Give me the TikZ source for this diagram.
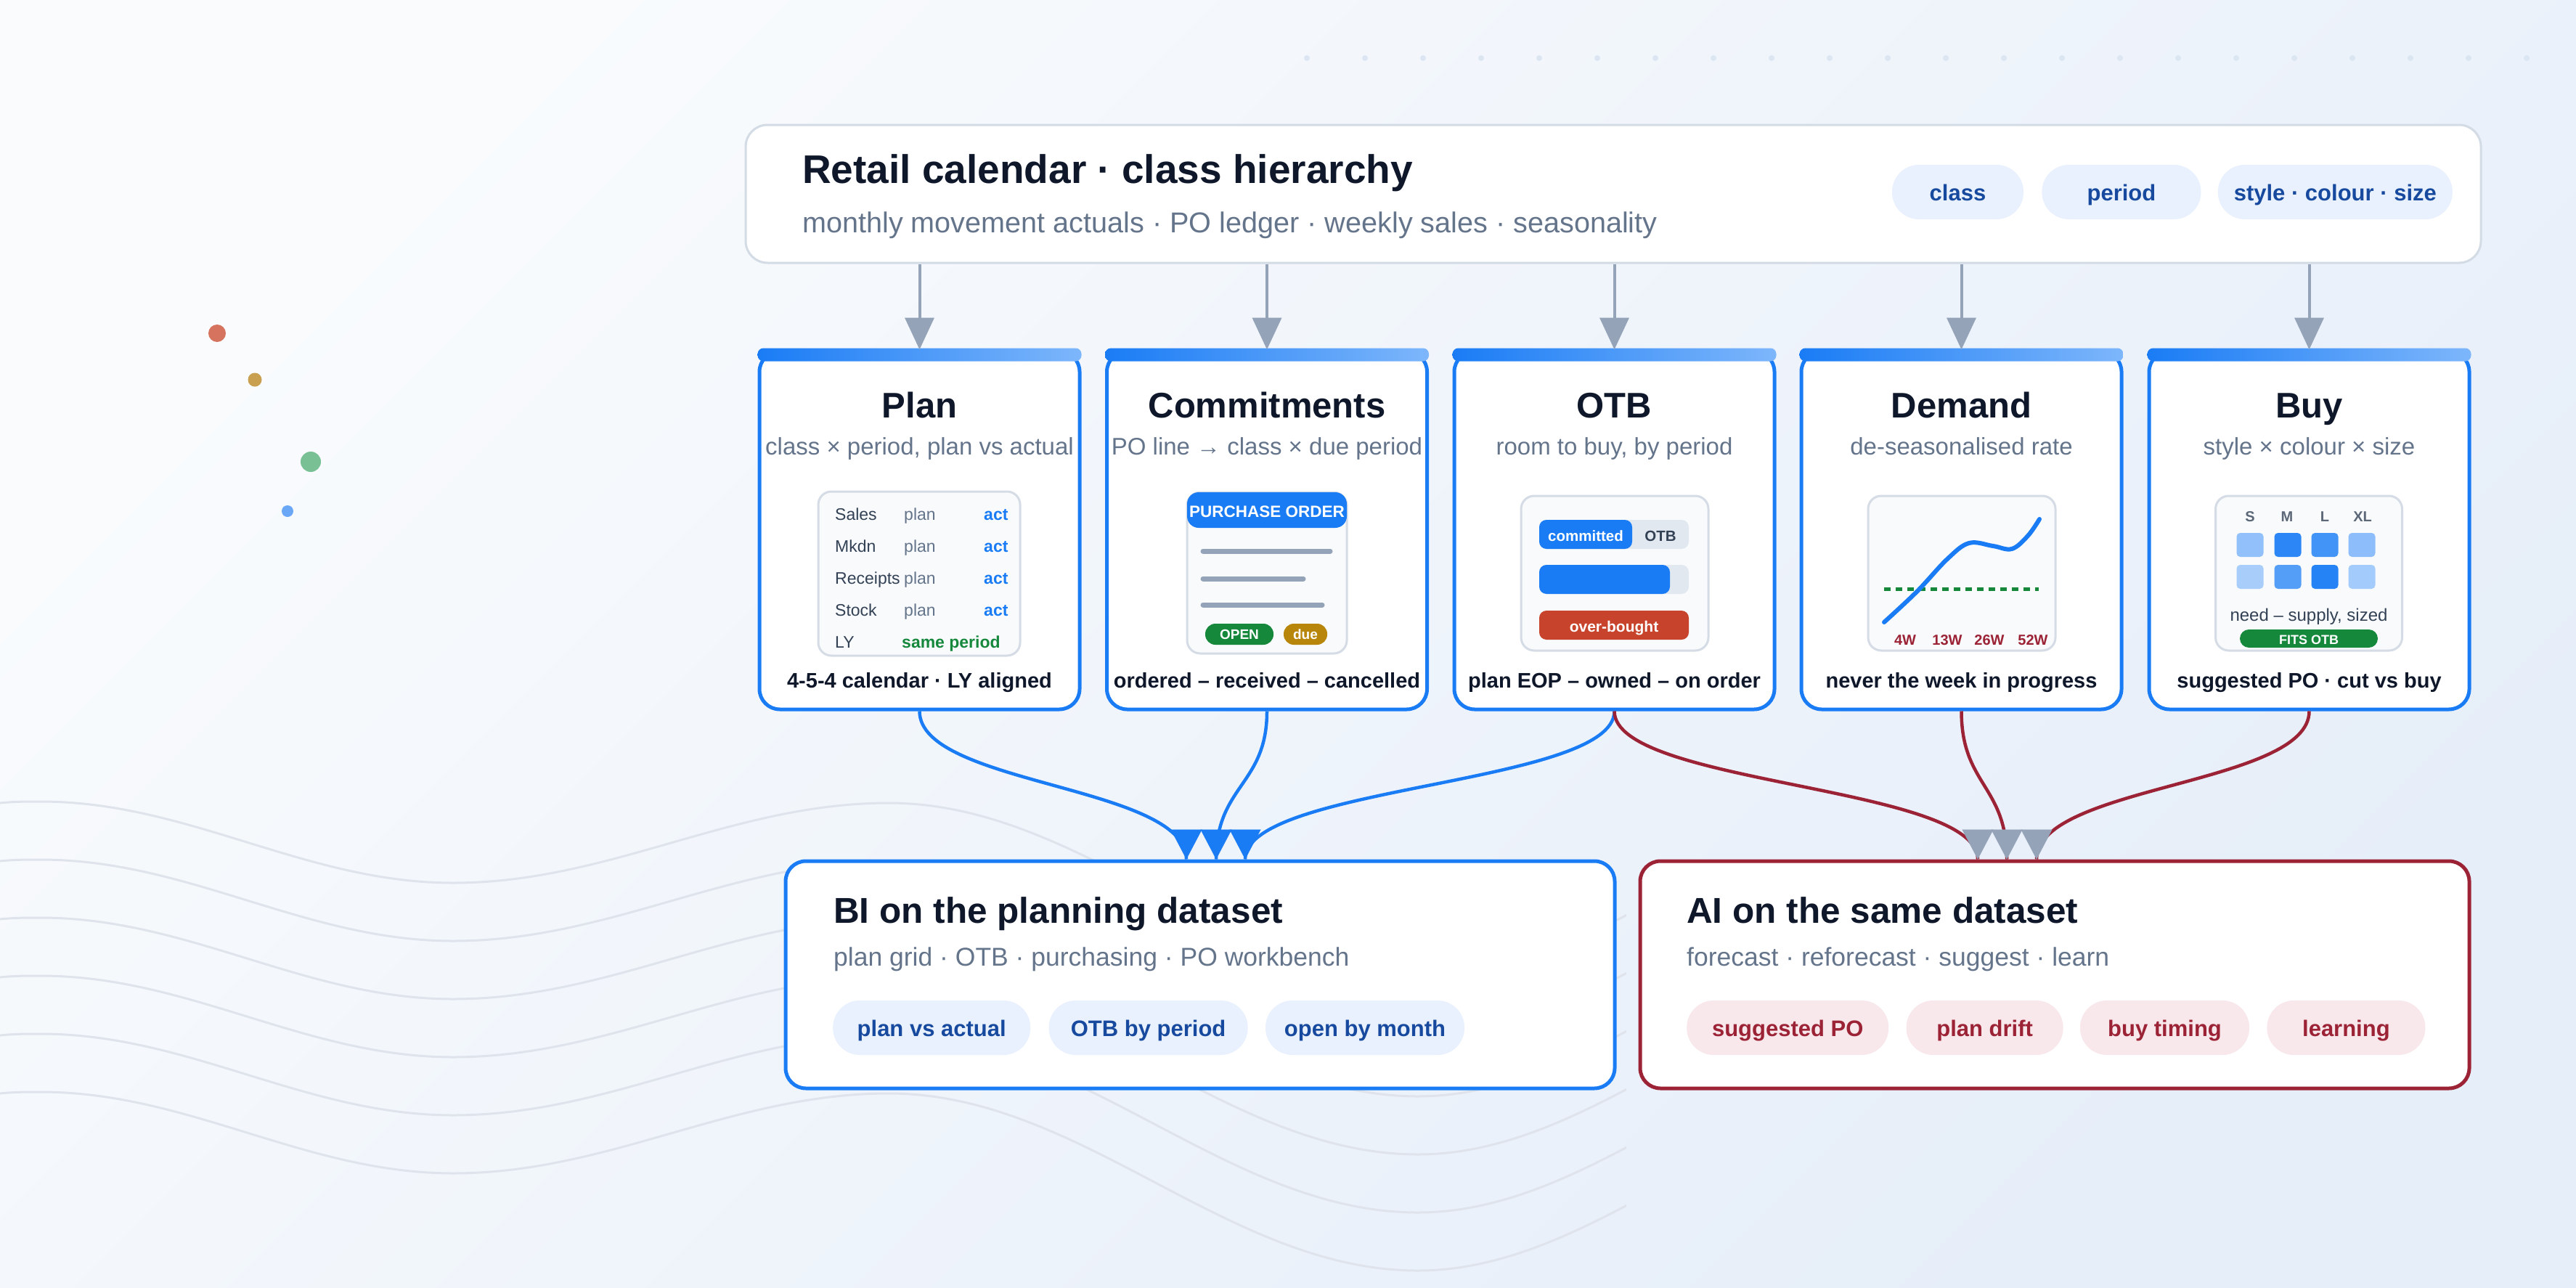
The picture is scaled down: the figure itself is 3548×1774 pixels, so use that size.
\documentclass[tikz,border=0pt]{standalone}
\usepackage{fontspec}
\setmainfont{Liberation Sans}
\usetikzlibrary{arrows.meta,positioning}

\definecolor{ink}{HTML}{0F172A}
\definecolor{slate}{HTML}{64748B}
\definecolor{slatedark}{HTML}{334155}
\definecolor{cardblue}{HTML}{1A7CF5}
\definecolor{barlight}{HTML}{7DB6FB}
\definecolor{hdrline}{HTML}{D3DBE5}
\definecolor{pillblue}{HTML}{E8F1FD}
\definecolor{pilltext}{HTML}{174A9E}
\definecolor{crimson}{HTML}{9B2335}
\definecolor{pillpink}{HTML}{F8E7EB}
\definecolor{arrowgray}{HTML}{94A3B8}
\definecolor{panelfill}{HTML}{F8FAFC}
\definecolor{panelline}{HTML}{D5DCE5}
\definecolor{barbg}{HTML}{E2E8F0}
\definecolor{okgreen}{HTML}{16883C}
\definecolor{gold}{HTML}{B8860B}
\definecolor{warnred}{HTML}{C8432B}
\definecolor{wavegray}{HTML}{DFE4EC}
\definecolor{dotgrey}{HTML}{DCE6F2}
\definecolor{bgA}{HTML}{F9FBFD}
\definecolor{bgB}{HTML}{E6EEF9}
\definecolor{dotred}{HTML}{D6735F}
\definecolor{dotgold}{HTML}{C9A04F}
\definecolor{dotgreen}{HTML}{79C095}
\definecolor{dotblue}{HTML}{6AA8F7}

\newcommand\fsz[1]{\fontsize{#1}{#1}\selectfont}

\begin{document}
\begin{tikzpicture}[x=1pt, y=-1pt]
\tikzstyle{card}=[draw=cardblue, line width=5pt, fill=white, rounded corners=28pt, minimum width=441pt, minimum height=493pt, inner sep=0pt]
\tikzstyle{ctitle}=[anchor=base, inner sep=0pt, text=ink, font=\fsz{49}\bfseries]
\tikzstyle{csub}=[anchor=base, inner sep=0pt, text=slate, font=\fsz{33}]
\tikzstyle{ccap}=[anchor=base, inner sep=0pt, text=ink, font=\fsz{29}\bfseries]
\tikzstyle{panel}=[draw=panelline, line width=3pt, fill=panelfill, rounded corners=18pt, inner sep=0pt]
\tikzstyle{pill}=[rounded corners=37pt, minimum height=75pt, inner sep=0pt, text height=24pt, text depth=0pt, font=\fsz{31}\bfseries]
\tikzstyle{bluepill}=[pill, fill=pillblue, text=pilltext]
\tikzstyle{redpill}=[pill, fill=pillpink, text=crimson]
\tikzstyle{tiny}=[anchor=base, inner sep=0pt]
\tikzstyle{feed}=[arrowgray, line width=4pt, -{Triangle[length=44pt,width=40pt]}]
\tikzstyle{biflow}=[cardblue, line width=4.5pt]
\tikzstyle{aiflow}=[crimson, line width=4.5pt]
\tikzstyle{bihead}=[cardblue, line width=0.1pt, -{Triangle[length=41pt,width=43pt]}]
\tikzstyle{aihead}=[arrowgray, line width=0.1pt, -{Triangle[length=41pt,width=43pt]}]

% background
\shade[top color=bgA, bottom color=bgB, shading angle=45] (0,0) rectangle (3548,1774);
\useasboundingbox (0,0) rectangle (3548,1774);

\begin{scope}
\clip (0,0) rectangle (2240,1774);
\foreach \d in {0,80,...,400}
  \draw[wavegray, line width=3pt] (0,1106+\d) .. controls (20,1104+\d) and (36,1104+\d) .. (56,1104+\d)
    .. controls (260,1104+\d) and (420,1216+\d) .. (624,1216+\d)
    .. controls (840,1216+\d) and (1008,1106+\d) .. (1224,1106+\d)
    .. controls (1490,1106+\d) and (1690,1350+\d) .. (1953,1350+\d)
    .. controls (2200,1350+\d) and (2400,1106+\d) .. (2650,1106+\d);
\end{scope}

\foreach \i in {0,...,21}
  \fill[dotgrey] (1800+80*\i,80) circle (4pt);
\fill[dotred] (299,459) circle (12pt);
\fill[dotgold] (351,523) circle (9.5pt);
\fill[dotgreen] (428,636) circle (14pt);
\fill[dotblue] (396,704) circle (8pt);

% header
\node[draw=hdrline, line width=3pt, fill=white, rounded corners=30pt, minimum width=2390pt, minimum height=190pt] (hdr) at (2222,267) {};
\node[anchor=base west, inner sep=0pt, text=ink, font=\fsz{55}\bfseries] (hdrtitle) at (1105,252) {Retail calendar · class hierarchy};
\node[anchor=base west, inner sep=0pt, text=slate, font=\fsz{39.6}] (hdrsub) at (1105,320) {monthly movement actuals · PO ledger · weekly sales · seasonality};
\node[bluepill, minimum width=181pt] (pclass) at (2696.5,264.5) {class};
\node[bluepill, minimum width=219pt, right=25pt of pclass] (pperiod) {period};
\node[bluepill, minimum width=323pt, right=23pt of pperiod] (pscs) {style · colour · size};

% cards
\node[card] (plan)   at (1266.5,730.5) {};
\node[card] (commit) at (1745,730.5)   {};
\node[card] (otb)    at (2223.5,730.5) {};
\node[card] (demand) at (2701.5,730.5) {};
\node[card] (buy)    at (3180.5,730.5) {};

\foreach \c in {plan,commit,otb,demand,buy} {
  \shade[left color=cardblue, right color=barlight, rounded corners=8pt] ([yshift=2pt]\c.north west) rectangle ([yshift=-16pt]\c.north east);
  \draw[feed] (hdr.south -| \c.north) -- (\c.north);
}

\node[ctitle] (plantitle)   at (1266.5,575) {Plan};
\node[ctitle] (committitle) at (1745,575)   {Commitments};
\node[ctitle] (otbtitle)    at (2223.5,575) {OTB};
\node[ctitle] (demtitle)    at (2701.5,575) {Demand};
\node[ctitle] (buytitle)    at (3180.5,575) {Buy};

\node[csub] (plansub)   at (1266.5,626) {class × period, plan vs actual};
\node[csub] (commitsub) at (1745,626)   {PO line → class × due period};
\node[csub] (otbsub)    at (2223.5,626) {room to buy, by period};
\node[csub] (demsub)    at (2701.5,626) {de-seasonalised rate};
\node[csub] (buysub)    at (3180.5,626) {style × colour × size};

\node[ccap] (plancap)   at (1266.5,947) {4-5-4 calendar · LY aligned};
\node[ccap] (commitcap) at (1745,947)   {ordered – received – cancelled};
\node[ccap] (otbcap)    at (2223.5,947) {plan EOP – owned – on order};
\node[ccap] (demcap)    at (2701.5,947) {never the week in progress};
\node[ccap] (buycap)    at (3180.5,947) {suggested PO · cut vs buy};

% plan panel
\node[panel, minimum width=278pt, minimum height=226pt] (planpanel) at (1266,790) {};
\foreach \lab [count=\i from 0] in {Sales,Mkdn,Receipts,Stock} {
  \node[tiny, anchor=base west, text=slatedark, font=\fsz{23}] (row\i) at (1150,716+44*\i) {\lab};
  \node[tiny, anchor=base west, text=slate, font=\fsz{23}] (rowplan\i) at (1245,716+44*\i) {plan};
  \node[tiny, anchor=base west, text=cardblue, font=\fsz{23}\bfseries] (rowact\i) at (1355,716+44*\i) {act};
}
\node[tiny, anchor=base west, text=slatedark, font=\fsz{23}] (rowly) at (1150,892) {LY};
\node[tiny, anchor=base west, text=okgreen, font=\fsz{23}\bfseries] (rowsame) at (1242,892) {same period};

% purchase order panel
\node[panel, minimum width=220pt, minimum height=222pt] (popanel) at (1745,789) {};
\node[fill=cardblue, rounded corners=16pt, minimum width=220pt, minimum height=49pt, inner sep=0pt, text=white, font=\fsz{22.5}\bfseries, text height=19pt, text depth=0pt] (pohead) at (1745,702.5) {PURCHASE ORDER};
\draw[arrowgray, line width=7pt, line cap=round] (1657,759) -- (1832,759);
\draw[arrowgray, line width=7pt, line cap=round] (1657,797) -- (1795,797);
\draw[arrowgray, line width=7pt, line cap=round] (1657,833) -- (1821,833);
\node[fill=okgreen, rounded corners=14pt, minimum width=94pt, minimum height=29pt, inner sep=0pt, text=white, font=\fsz{19}\bfseries, text height=14pt, text depth=0pt] (poopen) at (1707,873.5) {OPEN};
\node[fill=gold, rounded corners=14pt, minimum width=60pt, minimum height=29pt, inner sep=0pt, text=white, font=\fsz{19}\bfseries, text height=14pt, text depth=0pt] (podue) at (1798,873.5) {due};

% otb panel
\node[panel, minimum width=258pt, minimum height=213pt] (otbpanel) at (2224,789.5) {};
\fill[barbg, rounded corners=10pt] (2120,716) rectangle (2326,756);
\node[fill=cardblue, rounded corners=10pt, minimum width=128pt, minimum height=40pt, inner sep=0pt, text=white, font=\fsz{20.5}\bfseries, text height=18pt, text depth=0pt] (otbcom) at (2184,736) {committed};
\node[inner sep=0pt, text=slatedark, font=\fsz{20.5}\bfseries, text height=18pt, text depth=0pt] (otbrest) at (2287,736) {OTB};
\fill[barbg, rounded corners=10pt] (2120,778) rectangle (2326,818);
\fill[cardblue, rounded corners=10pt] (2120,778) rectangle (2300,818);
\node[fill=warnred, rounded corners=10pt, minimum width=206pt, minimum height=40pt, inner sep=0pt, text=white, font=\fsz{21}\bfseries, text height=18pt, text depth=0pt] (otbover) at (2223,861) {over-bought};

% demand panel
\node[panel, minimum width=258pt, minimum height=213pt] (dempanel) at (2702,789.5) {};
\draw[okgreen, line width=5pt, dash pattern=on 9pt off 7pt] (2595,811) -- (2808,811);
\draw[cardblue, line width=6pt, line cap=round] plot[smooth, tension=0.6] coordinates {(2595,857) (2640,815) (2682,770) (2712,748) (2745,752) (2771,756) (2793,738) (2809,715)};
\node[tiny, text=crimson, font=\fsz{20}\bfseries] (w4)  at (2624,888) {4W};
\node[tiny, text=crimson, font=\fsz{20}\bfseries] (w13) at (2682,888) {13W};
\node[tiny, text=crimson, font=\fsz{20}\bfseries] (w26) at (2740,888) {26W};
\node[tiny, text=crimson, font=\fsz{20}\bfseries] (w52) at (2800,888) {52W};

% buy panel
\node[panel, minimum width=257pt, minimum height=213pt] (buypanel) at (3180,789.5) {};
\foreach \s/\x in {S/3099,M/3150,L/3202,XL/3254}
  \node[tiny, text=slatedark!80, font=\fsz{20}\bfseries] (size\s) at (\x,718) {\s};
\foreach \x/\ca/\cb in {3099/48/38,3151/92/74,3202/82/95,3253/50/40} {
  \fill[cardblue!\ca!white, rounded corners=5pt] (\x-18.5,734) rectangle (\x+18.5,767);
  \fill[cardblue!\cb!white, rounded corners=5pt] (\x-18.5,778) rectangle (\x+18.5,811);
}
\node[tiny, text=slatedark, font=\fsz{24}] (buyneed) at (3180,855) {need – supply, sized};
\node[fill=okgreen, rounded corners=12.5pt, minimum width=190pt, minimum height=25pt, inner sep=0pt, text=white, font=\fsz{18}\bfseries, text height=15pt, text depth=0pt] (buyfits) at (3180,879.5) {FITS OTB};

% consumers
\node[draw=cardblue, line width=5pt, fill=white, rounded corners=28pt, minimum width=1142pt, minimum height=313pt] (bi) at (1653,1342.5) {};
\node[draw=crimson, line width=5pt, fill=white, rounded corners=28pt, minimum width=1142pt, minimum height=313pt] (ai) at (2830,1342.5) {};

\node[anchor=base west, inner sep=0pt, text=ink, font=\fsz{49.5}\bfseries] (bititle) at (1148,1271) {BI on the planning dataset};
\node[anchor=base west, inner sep=0pt, text=slate, font=\fsz{35.5}] (bisub) at (1148,1330) {plan grid · OTB · purchasing · PO workbench};
\node[bluepill, minimum width=272pt, anchor=west] (bp1) at (1147,1415.5) {plan vs actual};
\node[bluepill, minimum width=274pt, right=25pt of bp1] (bp2) {OTB by period};
\node[bluepill, minimum width=274pt, right=24pt of bp2] (bp3) {open by month};

\node[anchor=base west, inner sep=0pt, text=ink, font=\fsz{49.5}\bfseries] (aititle) at (2323,1271) {AI on the same dataset};
\node[anchor=base west, inner sep=0pt, text=slate, font=\fsz{35.5}] (aisub) at (2323,1330) {forecast · reforecast · suggest · learn};
\node[redpill, minimum width=278pt, anchor=west] (ap1) at (2323,1415.5) {suggested PO};
\node[redpill, minimum width=216pt, right=24pt of ap1] (ap2) {plan drift};
\node[redpill, minimum width=233pt, right=23pt of ap2] (ap3) {buy timing};
\node[redpill, minimum width=218pt, right=24pt of ap3] (ap4) {learning};

% flows
\draw[biflow] (plan.south)   .. controls +(0,102) and +(0,-102) .. ([xshift=-19pt]bi.north);
\draw[biflow] (commit.south) .. controls +(0,102) and +(0,-102) .. ([xshift=22pt]bi.north);
\draw[biflow] (otb.south)    .. controls +(0,102) and +(0,-102) .. ([xshift=62pt]bi.north);
\draw[aiflow] (otb.south)    .. controls +(0,102) and +(0,-102) .. ([xshift=-106pt]ai.north);
\draw[aiflow] (demand.south) .. controls +(0,102) and +(0,-102) .. ([xshift=-66pt]ai.north);
\draw[aiflow] (buy.south)    .. controls +(0,102) and +(0,-102) .. ([xshift=-25pt]ai.north);
\foreach \s in {-19,22,62}
  \draw[bihead] ([xshift=\s pt, yshift=2pt]bi.north) -- ([xshift=\s pt]bi.north);
\foreach \s in {-106,-66,-25}
  \draw[aihead] ([xshift=\s pt, yshift=2pt]ai.north) -- ([xshift=\s pt]ai.north);
\end{tikzpicture}
\end{document}
